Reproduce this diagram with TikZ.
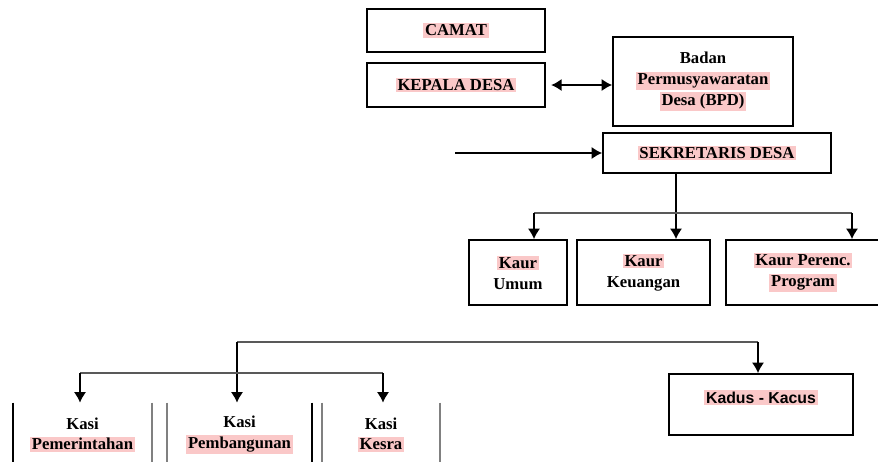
\documentclass[tikz,border=0pt]{standalone}
\usepackage{fontspec}
\setmainfont{Liberation Serif}
\setsansfont{Liberation Sans}
\usetikzlibrary{shapes,arrows.meta}
\definecolor{hlpink}{RGB}{250,200,200}
\newcommand{\hl}[1]{{\setlength{\fboxsep}{1pt}\colorbox{hlpink}{#1}}}
\tikzstyle{block} = [rectangle, draw, line width=1pt, align=center,
    font=\fontsize{9.5}{12}\selectfont\bfseries, inner sep=2pt]
\tikzstyle{kasi} = [rectangle, align=center, minimum height=1.28cm,
    font=\fontsize{9.5}{11.5}\selectfont\bfseries, inner sep=2pt]
\tikzstyle{line} = [draw, line width=1pt, -{Latex[length=6pt,width=7pt]}]
\tikzstyle{bus} = [draw, line width=0.7pt, black!65]
\tikzstyle{side} = [draw, line width=1pt, black!50]

\begin{document}
\begin{tikzpicture}[x=0.02cm, y=-0.02cm]
		\useasboundingbox (0,0) rectangle (878,461);

		\node [block, minimum width=3.56cm, minimum height=0.86cm] (camat) at (456,30.5) {\hl{CAMAT}};
		\node [block, minimum width=3.56cm, minimum height=0.88cm] (kades) at (456,85) {\hl{KEPALA DESA}};
		\node [block, minimum width=3.6cm, minimum height=1.78cm] (bpd) at (703,81.5) {Badan\\\hl{Permusyawaratan}\\\hl{Desa (BPD)}};
		\node [block, minimum width=4.56cm, minimum height=0.8cm] (sekdes) at (717,153) {\hl{SEKRETARIS DESA}};

		\node [block, minimum width=1.96cm, minimum height=1.3cm] (umum) at (518,272.5) {\hl{Kaur}\\Umum};
		\node [block, minimum width=2.66cm, minimum height=1.3cm] (keu) at (643.5,272.5) {\hl{Kaur}\\Keuangan};
		\node [block, minimum width=3.08cm, minimum height=1.3cm] (perenc) at (803,272.5) {\hl{Kaur Perenc.}\\\hl{Program}};

		\node [block, minimum width=3.68cm, minimum height=1.22cm, font=\fontsize{9}{11}\selectfont\sffamily\bfseries] (kadus) at (761,404.5) {\raisebox{4pt}[\height][\depth]{\hl{Kadus - Kacus}}};

		\node [kasi, minimum width=2.78cm] (pem) at (82.5,435) {Kasi\\\hl{Pemerintahan}};
		\node [kasi, minimum width=2.9cm] (pbg) at (239.5,435) {Kasi\\\hl{Pembangunan}};
		\node [kasi, minimum width=2.36cm] (kesra) at (381,435) {Kasi\\\hl{Kesra}};

		% sisi kotak kasi
		\draw [side, black] (pem.north west) -- (pem.south west);
		\draw [side] (pem.north east) -- (pem.south east);
		\draw [side] (pbg.north west) -- (pbg.south west);
		\draw [side, black] (pbg.north east) -- (pbg.south east);
		\draw [side] (kesra.north west) -- (kesra.south west);
		\draw [side] (kesra.north east) -- (kesra.south east);

		\coordinate (masuk) at (455,153);
		\coordinate (turun) at (676,213);
		\coordinate (kiri) at (534,213);
		\coordinate (kanan) at (852,213);
		\coordinate (atas) at (237,342);
		\coordinate (ujung) at (758,342);
		\coordinate (bkiri) at (80,373);
		\coordinate (bkanan) at (383,373);

		\path [line, {Latex[length=6pt,width=7pt]}-{Latex[length=6pt,width=7pt]}, shorten <=3pt] (kades.east) -- (kades.east -| bpd.west);
		\path [line] (masuk) -- (masuk -| sekdes.west);
		\path [line] (turun |- sekdes.south) -- (turun |- keu.north);
		\path [bus] (kiri) -- (kanan);
		\path [line] (kiri) -- (kiri |- umum.north);
		\path [line] (kanan) -- (kanan |- perenc.north);

		\path [bus] (atas) -- (ujung);
		\path [line] (ujung) -- (ujung |- kadus.north);
		\path [line] (atas) -- (atas |- pbg.north);
		\path [bus] (bkiri) -- (bkanan);
		\path [line] (bkiri) -- (bkiri |- pem.north);
		\path [line] (bkanan) -- (bkanan |- kesra.north);
	\end{tikzpicture}
\end{document}
